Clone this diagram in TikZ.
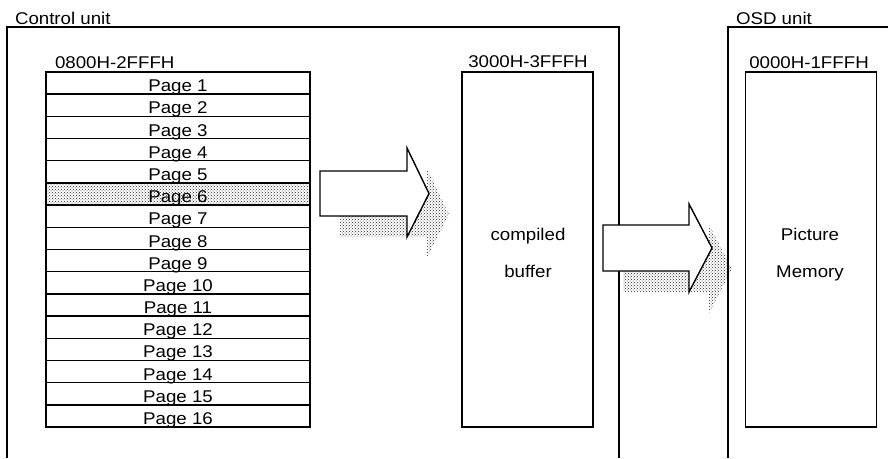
\documentclass[tikz,border=0pt]{standalone}
\usepackage{fontspec}
\setmainfont{Liberation Sans}[FakeStretch=1.1]
\usetikzlibrary{patterns}
\begin{document}
\begin{tikzpicture}[x=1pt,y=-1pt,line width=1.4pt,
  every node/.style={font=\fontsize{17}{20}\selectfont,inner sep=0pt,outer sep=0pt},
  lbl/.style={anchor=base},
  pagerow/.style={draw,minimum width=264pt,minimum height=22.19pt},
  memblock/.style={draw,minimum width=131pt,minimum height=355pt},
  shadefill/.style={pattern=crosshatch dots,pattern color=black!85},
  blockarrow/.style={draw,fill=white,line join=miter}]
\useasboundingbox (0,0) rectangle (888,458);
% control unit frame
\coordinate (cuA) at (7,458);
\coordinate (cuB) at (7,27);
\coordinate (cuC) at (619,27);
\coordinate (cuD) at (619,458);
\draw (cuA) -- (cuB) -- (cuC) -- (cuD);
\node[lbl,anchor=base west] (culbl) at (15,24) {Control unit};
% page table
\node[lbl,anchor=base west] (pglbl) at (55,68) {0800H-2FFFH};
\fill[shadefill] (46,183.0) rectangle (310,205.2);
\foreach \i in {1,...,16}{
  \node[pagerow] (p\i) at (178,{72+22.19*\i-11.095}) {};
  \node[lbl] (t\i) at ([yshift=2.5pt]p\i.south) {Page \i};
}
% compiled buffer
\node[memblock] (buf) at (527.5,249.5) {};
\node[lbl] (buflbl) at (528,67) {3000H-3FFFH};
\node[lbl] (bufa) at (528,240) {compiled};
\node[lbl] (bufb) at (528,277) {buffer};
% arrow 1
\fill[shadefill,shift={(20,21)}] (320,171)--(407,171)--(407,148)--(429,193.5)--(407,237)--(407,216)--(320,216)--cycle;
\draw[blockarrow] (320,171)--(407,171)--(407,148)--(429,193.5)--(407,237)--(407,216)--(320,216)--cycle;
% arrow 2
\fill[shadefill,shift={(20,21)}] (603,225)--(689,225)--(689,204)--(712,248)--(689,292)--(689,271)--(603,271)--cycle;
\draw[blockarrow] (603,225)--(689,225)--(689,204)--(712,248)--(689,292)--(689,271)--(603,271)--cycle;
% OSD unit frame
\coordinate (osA) at (728,458);
\coordinate (osB) at (728,27);
\coordinate (osC) at (889,27);
\draw (osA) -- (osB) -- (osC);
\node[lbl,anchor=base west] (oslbl) at (736,24) {OSD unit};
\node[memblock] (mem) at (811,249.5) {};
\node[lbl] (memlbl) at (809,68) {0000H-1FFFH};
\node[lbl] (mema) at (810,240) {Picture};
\node[lbl] (memb) at (810,277) {Memory};
\end{tikzpicture}
\end{document}
